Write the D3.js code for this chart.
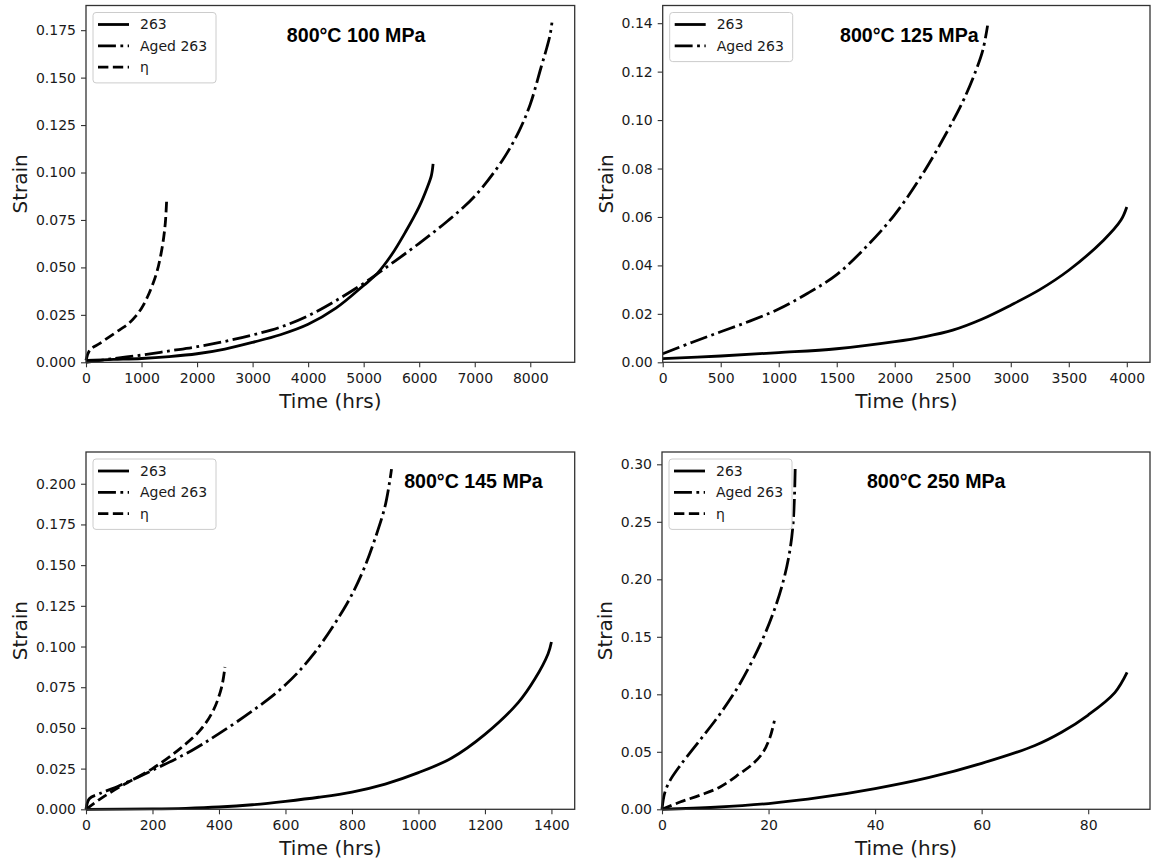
<!DOCTYPE html>
<html><head><meta charset="utf-8">
<script src="https://cdn.jsdelivr.net/npm/d3@7"></script>
<style>body{margin:0;background:#fff}</style>
</head><body><svg id="c" width="1152" height="862"></svg>
<script>
// ---------- DATA ----------
const seriesNames = ["263", "Aged 263", "η"];
const titles = ["800°C 100 MPa", "800°C 125 MPa", "800°C 145 MPa", "800°C 250 MPa"];

// 800°C 100 MPa
const p100_263_t  = [0, 500, 1000, 1500, 2000, 2500, 3000, 3500, 4000, 4500, 5000, 5250, 5500, 5750, 6000, 6150, 6220, 6250];
const p100_263_s  = [0.001, 0.0015, 0.002, 0.003, 0.0045, 0.007, 0.0105, 0.0145, 0.020, 0.0285, 0.0405, 0.047, 0.0565, 0.0685, 0.082, 0.0925, 0.0985, 0.1045];
const p100_aged_t = [0, 500, 1000, 1500, 2000, 2500, 3000, 3500, 4000, 4500, 5000, 5500, 6000, 6500, 7000, 7500, 7800, 8000, 8200, 8300, 8360, 8390];
const p100_aged_s = [0, 0.002, 0.0038, 0.006, 0.0082, 0.011, 0.0144, 0.0185, 0.0245, 0.0325, 0.0416, 0.052, 0.0627, 0.0742, 0.0875, 0.1065, 0.122, 0.136, 0.156, 0.166, 0.173, 0.179];
const p100_eta_t  = [0, 70, 250, 600, 750, 900, 1000, 1100, 1200, 1280, 1350, 1400, 1430, 1454];
const p100_eta_s  = [0.001, 0.0065, 0.010, 0.017, 0.020, 0.0245, 0.0285, 0.034, 0.041, 0.048, 0.057, 0.066, 0.074, 0.0864];

// 800°C 125 MPa
const p125_263_t  = [0, 500, 1000, 1500, 2000, 2250, 2500, 2750, 3000, 3250, 3500, 3800, 3950, 4000];
const p125_263_s  = [0.0015, 0.0026, 0.004, 0.0056, 0.0085, 0.0105, 0.0133, 0.0178, 0.0236, 0.030, 0.038, 0.0504, 0.0587, 0.0641];
const p125_aged_t = [0, 250, 500, 750, 1000, 1250, 1500, 1750, 2000, 2250, 2500, 2600, 2700, 2760, 2800];
const p125_aged_s = [0.0035, 0.0082, 0.0126, 0.017, 0.022, 0.0285, 0.0362, 0.0475, 0.061, 0.0785, 0.0995, 0.109, 0.1205, 0.129, 0.139];

// 800°C 145 MPa
const p145_263_t  = [0, 200, 300, 400, 500, 600, 700, 800, 900, 1000, 1100, 1200, 1300, 1350, 1390, 1400];
const p145_263_s  = [0, 0.0002, 0.0006, 0.0014, 0.0028, 0.0049, 0.0074, 0.0106, 0.0155, 0.0225, 0.0315, 0.046, 0.0655, 0.080, 0.0956, 0.1028];
const p145_aged_t = [0, 10, 40, 100, 200, 317, 400, 503, 600, 683, 784, 834, 874, 899, 914, 919];
const p145_aged_s = [0, 0.0065, 0.0095, 0.0145, 0.024, 0.036, 0.0465, 0.0608, 0.0765, 0.095, 0.126, 0.1468, 0.169, 0.1857, 0.202, 0.209];
const p145_eta_t  = [0, 40, 101, 200, 283, 343, 383, 408, 418];
const p145_eta_s  = [0, 0.006, 0.0137, 0.025, 0.0373, 0.0485, 0.0608, 0.0751, 0.0874];

// 800°C 250 MPa
const p250_263_t  = [0, 10, 20, 30, 40, 50, 60, 70, 75, 80, 85, 87.3];
const p250_263_s  = [0, 0.0018, 0.005, 0.0105, 0.018, 0.0275, 0.040, 0.0555, 0.067, 0.082, 0.1015, 0.119];
const p250_aged_t = [0, 0.5, 1.5, 3.4, 7.1, 10.9, 14.6, 18.4, 20.9, 22.8, 24.0, 24.6, 24.85, 25.0];
const p250_aged_s = [0, 0.014, 0.025, 0.038, 0.06, 0.083, 0.109, 0.143, 0.171, 0.199, 0.225, 0.248, 0.27, 0.296];
const p250_eta_t  = [0, 3.4, 7.1, 10.9, 14.6, 17.1, 19.0, 20.3, 21.1];
const p250_eta_s  = [0, 0.0063, 0.0122, 0.0194, 0.031, 0.0397, 0.0498, 0.063, 0.077];

// axis limits and ticks
const xLimits = [8800, 4200, 1470, 91.6];
const yLimits = [0.188, 0.1473, 0.2195, 0.3107];
const xTicks = [
  [0,1000,2000,3000,4000,5000,6000,7000,8000],
  [0,500,1000,1500,2000,2500,3000,3500,4000],
  [0,200,400,600,800,1000,1200,1400],
  [0,20,40,60,80]
];
const yTicks = [
  [0,0.025,0.05,0.075,0.1,0.125,0.15,0.175],
  [0,0.02,0.04,0.06,0.08,0.1,0.12,0.14],
  [0,0.025,0.05,0.075,0.1,0.125,0.15,0.175,0.2],
  [0,0.05,0.1,0.15,0.2,0.25,0.3]
];
const yFormats = [".3f", ".2f", ".3f", ".2f"];
const xLabel = "Time (hrs)", yLabel = "Strain";

// ---------- LAYOUT ----------
const boxes = [
  {l: 86,  t: 5.5, r: 574.7, b: 362.3},
  {l: 662.7, t: 5.5, r: 1150, b: 362.3},
  {l: 86,  t: 452, r: 574.7, b: 809.3},
  {l: 662, t: 452, r: 1150, b: 809.3}
];
const titleFrac = [0.411, 0.364, 0.651, 0.42];
const panelSeries = [
  [[p100_263_t, p100_263_s, 0], [p100_aged_t, p100_aged_s, 1], [p100_eta_t, p100_eta_s, 2]],
  [[p125_263_t, p125_263_s, 0], [p125_aged_t, p125_aged_s, 1]],
  [[p145_263_t, p145_263_s, 0], [p145_aged_t, p145_aged_s, 1], [p145_eta_t, p145_eta_s, 2]],
  [[p250_263_t, p250_263_s, 0], [p250_aged_t, p250_aged_s, 1], [p250_eta_t, p250_eta_s, 2]]
];
const legendCount = [3, 2, 3, 3];

const LW = 2.8;
const dashes = ["none", [6.4,1.6,1,1.6].map(d=>d*LW).join(","), [3.7,1.6].map(d=>d*LW).join(",")];
const tickFont = "DejaVu Sans, sans-serif";
const spineColor = "#333";

const svg = d3.select("#c");

boxes.forEach((bx, i) => {
  const x = d3.scaleLinear().domain([0, xLimits[i]]).range([bx.l, bx.r]);
  const y = d3.scaleLinear().domain([0, yLimits[i]]).range([bx.b, bx.t]);
  const g = svg.append("g");

  // curves
  const line = d3.line().x(d => x(d[0])).y(d => y(d[1])).curve(d3.curveCatmullRom.alpha(0.5));
  panelSeries[i].forEach(([ts, ss, k]) => {
    const pts = ts.map((t, j) => [t, ss[j]]);
    g.append("path").datum(pts).attr("d", line)
      .attr("fill", "none").attr("stroke", "#000").attr("stroke-width", LW)
      .attr("stroke-dasharray", dashes[k]);
  });

  // axes
  const xa = g.append("g").attr("transform", `translate(0,${bx.b})`)
    .call(d3.axisBottom(x).tickValues(xTicks[i]).tickFormat(d3.format("d")).tickSize(5).tickSizeOuter(0).tickPadding(6));
  const ya = g.append("g").attr("transform", `translate(${bx.l},0)`)
    .call(d3.axisLeft(y).tickValues(yTicks[i]).tickFormat(d3.format(yFormats[i])).tickSize(5).tickSizeOuter(0).tickPadding(5));
  [xa, ya].forEach(a => {
    a.select(".domain").remove();
    a.selectAll("line").attr("stroke", spineColor).attr("stroke-width", 1.1);
    a.selectAll("text").attr("font-family", tickFont).attr("font-size", 14).attr("fill", "#1a1a1a");
  });

  // spines
  g.append("rect").attr("x", bx.l).attr("y", bx.t).attr("width", bx.r - bx.l).attr("height", bx.b - bx.t)
    .attr("fill", "none").attr("stroke", spineColor).attr("stroke-width", 1.3);

  // axis labels
  g.append("text").attr("x", (bx.l + bx.r) / 2).attr("y", bx.b + 46)
    .attr("text-anchor", "middle").attr("font-family", tickFont).attr("font-size", 20).attr("fill", "#1a1a1a")
    .text(xLabel);
  const yb = ya.node().getBBox();
  const ylx = bx.l + yb.x - 9;
  g.append("text").attr("transform", `translate(${ylx},${(bx.t + bx.b) / 2}) rotate(-90)`)
    .attr("text-anchor", "middle").attr("font-family", tickFont).attr("font-size", 20).attr("fill", "#1a1a1a")
    .text(yLabel);

  // title
  g.append("text").attr("x", bx.l + titleFrac[i] * (bx.r - bx.l)).attr("y", bx.t + 36.3)
    .attr("font-family", "Liberation Sans, Arial, Helvetica, sans-serif").attr("font-weight", "bold")
    .attr("font-size", 19.6).attr("fill", "#000").text(titles[i]);

  // legend
  const n = legendCount[i];
  const lg = g.append("g");
  lg.append("rect").attr("x", bx.l + 7).attr("y", bx.t + 7).attr("width", 123).attr("height", 6 + n * 21.3 + 0.5)
    .attr("rx", 3).attr("fill", "#fff").attr("fill-opacity", 0.8).attr("stroke", "#ccc").attr("stroke-width", 1);
  for (let k = 0; k < n; k++) {
    const cy = bx.t + 19 + k * 21.3;
    lg.append("line").attr("x1", bx.l + 12).attr("x2", bx.l + 43).attr("y1", cy).attr("y2", cy)
      .attr("stroke", "#000").attr("stroke-width", LW).attr("stroke-dasharray", dashes[k]);
    lg.append("text").attr("x", bx.l + 54).attr("y", cy).attr("dy", "0.35em")
      .attr("font-family", tickFont).attr("font-size", 14).attr("fill", "#1a1a1a").text(seriesNames[k]);
  }
});
</script></body></html>
